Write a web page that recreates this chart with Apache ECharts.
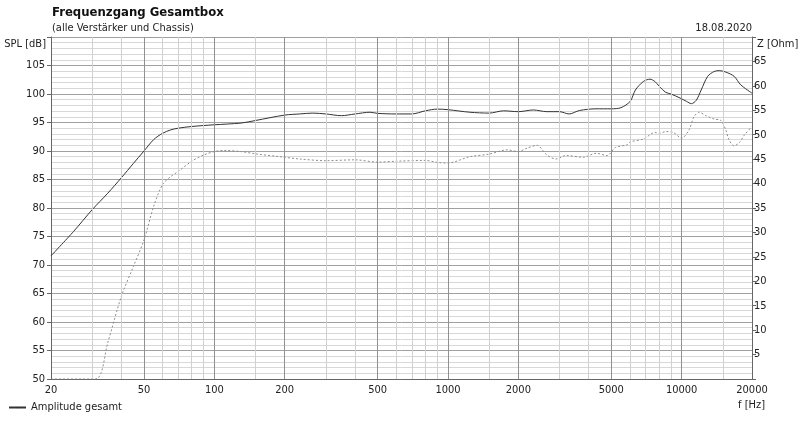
<!DOCTYPE html>
<html>
<head>
<meta charset="utf-8">
<script src="https://cdn.jsdelivr.net/npm/echarts@6/dist/echarts.min.js"></script>
<style>
  html, body { margin: 0; padding: 0; background: #fff; }
  #main { width: 800px; height: 438px; }
</style>
</head>
<body>
<div id="main"></div>
<script>
var chartDom = document.getElementById('main');
var myChart = echarts.init(chartDom);
var option;

const FONT = "'DejaVu Sans Condensed', 'Liberation Sans', sans-serif";
const textColor = '#222';

// Amplitude gesamt (solid)
const ampFreq = [20, 25, 30, 35, 40, 45, 50, 55, 60, 65, 70, 80, 100, 130, 150, 200, 232, 264, 300, 350,
  400, 464, 500, 600, 700, 800, 900, 1000, 1240, 1500, 1730, 2000, 2320, 2650, 3000, 3300, 3650, 4300,
  5000, 5500, 6020, 6340, 6860, 7320, 7680, 8000, 8540, 9000, 9840, 10500, 11000, 11550, 12120, 12920,
  13780, 14480, 15450, 16770, 17900, 20000];
const ampValues = [71.6, 75.9, 79.7, 82.6, 85.3, 87.8, 90.0, 92.0, 93.1, 93.7, 94.0, 94.3, 94.6, 94.9, 95.35, 96.3, 96.5, 96.65, 96.5, 96.2,
  96.5, 96.8, 96.6, 96.5, 96.5, 97.05, 97.35, 97.25, 96.8, 96.65, 97.05, 96.9, 97.2, 96.9, 96.9, 96.5, 97.1, 97.4,
  97.4, 97.6, 98.7, 100.7, 102.2, 102.6, 102.2, 101.4, 100.3, 100.0, 99.3, 98.7, 98.3, 98.9, 100.7, 103.1,
  103.95, 104.1, 103.85, 103.1, 101.6, 100.15];

// second (dotted) curve
const dotFreq = [20, 31, 35, 40, 45, 50, 55, 60, 65, 70, 80, 90, 100, 110, 130, 150, 191, 232, 300, 400,
  500, 600, 800, 900, 1000, 1240, 1500, 1790, 2000, 2180, 2400, 2650, 2900, 3200, 3800, 4300, 4800, 5200,
  5850, 6020, 6860, 7680, 8000, 8540, 9200, 10000, 10750, 11300, 11900, 12700, 13780, 14730, 15450, 15930,
  16770, 17670, 18590, 20000];
const dotValues = [50, 50, 56.4, 64.5, 69.7, 74.4, 80.3, 84.1, 85.5, 86.4, 88.2, 89.3, 89.9, 90.1, 89.9, 89.5, 89.0, 88.6, 88.3, 88.45,
  88.05, 88.2, 88.35, 88.0, 87.9, 89.0, 89.45, 90.2, 89.9, 90.5, 91.0, 89.3, 88.6, 89.2, 88.9, 89.6, 89.2, 90.6,
  91.1, 91.6, 92.1, 93.25, 93.1, 93.4, 93.25, 92.25, 93.7, 96.05, 96.8, 96.2, 95.6, 95.35, 93.7, 92.0,
  90.9, 91.5, 92.85, 94.3];

// axis labels and grid lines
const freqLabels = [20, 50, 100, 200, 500, 1000, 2000, 5000, 10000, 20000];
const majorGridFreq = [50, 100, 200, 500, 1000, 2000, 5000, 10000];
const minorGridFreq = [30, 40, 60, 70, 80, 90, 150, 300, 400, 600, 700, 800, 900, 1500,
  3000, 4000, 6000, 7000, 8000, 9000, 15000];

function pairs(xs, ys) {
  return xs.map((x, i) => [x, ys[i]]);
}

function gridLines(freqs, color) {
  return {
    type: 'line',
    data: [],
    silent: true,
    markLine: {
      silent: true,
      symbol: ['none', 'none'],
      animation: false,
      label: { show: false },
      lineStyle: { color: color, type: 'solid', width: 1 },
      data: freqs.map(f => ({ xAxis: f }))
    }
  };
}

function titleText(text, pos, style) {
  return Object.assign({
    text: text,
    textStyle: Object.assign({ fontFamily: FONT, fontSize: 11, fontWeight: 'normal', color: textColor }, style || {})
  }, pos);
}

option = {
  animation: false,
  textStyle: { fontFamily: FONT },
  title: [
    titleText('Frequenzgang Gesamtbox', { left: 47, top: 1 }, { fontSize: 13, fontWeight: 'bold', color: '#111' }),
    titleText('(alle Verstärker und Chassis)', { left: 47, top: 18 }),
    titleText('18.08.2020', { right: 43, top: 18 }),
    titleText('SPL [dB]', { right: 749, top: 34 }),
    titleText('Z [Ohm]', { left: 752, top: 34 }),
    titleText('f [Hz]', { right: 30, top: 395 })
  ],
  legend: {
    data: ['Amplitude gesamt'],
    left: 8,
    top: 402,
    padding: 0,
    itemWidth: 17,
    itemHeight: 2,
    itemGap: 4,
    textStyle: { fontFamily: FONT, fontSize: 11, color: textColor }
  },
  grid: {
    left: 51,
    right: 48,
    top: 37,
    bottom: 59
  },
  xAxis: {
    type: 'log',
    logBase: 10,
    min: 20,
    max: 20000,
    axisLine: { lineStyle: { color: '#666' } },
    axisTick: { show: false },
    splitLine: { show: false },
    axisLabel: {
      customValues: freqLabels,
      margin: 6,
      fontSize: 11,
      color: textColor,
      fontFamily: FONT,
      formatter: v => String(Math.round(v))
    }
  },
  yAxis: [
    {
      type: 'value',
      min: 50,
      max: 110,
      interval: 5,
      axisLine: { show: true, lineStyle: { color: '#666' } },
      axisTick: { show: true, length: 4, lineStyle: { color: '#666' } },
      axisLabel: {
        margin: 6,
        fontSize: 11,
        color: textColor,
        fontFamily: FONT,
        formatter: v => (v >= 110 ? '' : String(v))
      },
      splitLine: { show: true, lineStyle: { color: '#a0a0a0', width: 1 } },
      minorTick: { show: false, splitNumber: 5 },
      minorSplitLine: { show: true, lineStyle: { color: '#d8d8d8', width: 1 } }
    },
    {
      type: 'value',
      min: 0,
      max: 70,
      interval: 5,
      position: 'right',
      axisLine: { show: true, lineStyle: { color: '#666' } },
      axisTick: { show: true, length: 4, lineStyle: { color: '#666' } },
      axisLabel: {
        margin: 2,
        fontSize: 11,
        color: textColor,
        fontFamily: FONT,
        formatter: v => (v <= 0 || v >= 70 ? '' : String(v))
      },
      splitLine: { show: false }
    }
  ],
  series: [
    gridLines(minorGridFreq, '#d0d0d0'),
    gridLines(majorGridFreq, '#909090'),
    {
      name: 'Kurve 2',
      type: 'line',
      data: pairs(dotFreq, dotValues),
      showSymbol: false,
      symbol: 'none',
      smooth: 0.3,
      lineStyle: { color: '#8c8c8c', width: 1, type: [2, 2] }
    },
    {
      name: 'Amplitude gesamt',
      type: 'line',
      data: pairs(ampFreq, ampValues),
      showSymbol: false,
      symbol: 'none',
      smooth: 0.3,
      itemStyle: { color: '#333' },
      lineStyle: { color: '#333', width: 1 }
    }
  ]
};

option && myChart.setOption(option);
</script>
</body>
</html>
